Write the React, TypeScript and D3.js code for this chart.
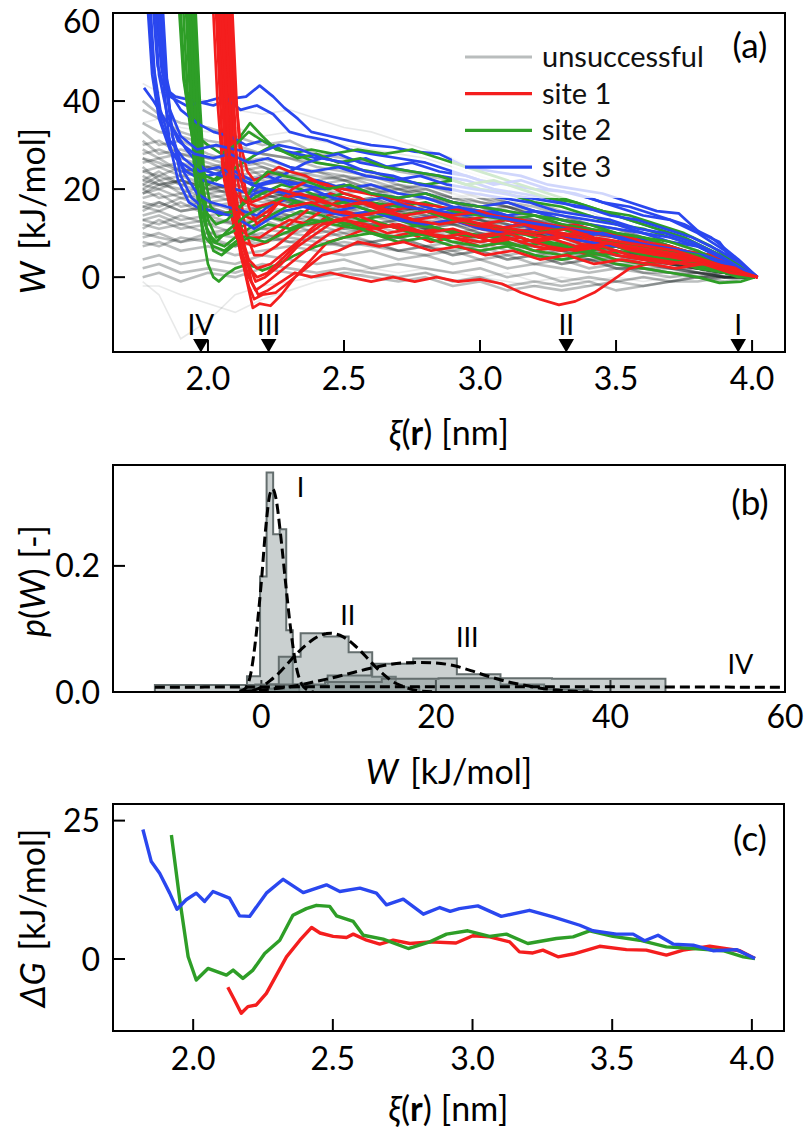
import React from "react";
import * as d3 from "d3";

type Pt = [number, number];

// ---------------- Panel (a): work profiles W(xi) ----------------
const XI_TICKS_A = [2.0, 2.5, 3.0, 3.5, 4.0];
const W_TICKS_A = [0, 20, 40, 60];

const GRAY_XI = [1.76, 1.82, 1.9, 2.0, 2.1, 2.2, 2.3, 2.4, 2.5, 2.6, 2.7, 2.8, 2.9, 3.0, 3.1, 3.2, 3.3, 3.4, 3.5, 3.6, 3.7, 3.8, 3.9, 4.0];
const GRAY_W: number[][] = [
  [38, 36, 33, 31, 30, 28, 27, 26, 25, 24, 22, 21, 20, 18, 16, 15, 13, 11, 9, 7, 6, 4, 2, 0],
  [30, 31, 28, 27, 25, 26, 24, 23, 22, 20, 21, 19, 17, 16, 15, 13, 12, 10, 9, 7, 5, 4, 2, 0],
  [27, 25, 26, 24, 22, 23, 21, 20, 21, 19, 17, 18, 16, 15, 13, 12, 11, 9, 8, 6, 5, 3, 1, 0],
  [25, 22, 23, 21, 20, 18, 19, 17, 16, 17, 15, 14, 15, 13, 12, 10, 9, 8, 6, 5, 4, 2, 1, 0],
  [22, 24, 21, 22, 19, 20, 18, 19, 17, 16, 17, 15, 13, 14, 12, 11, 9, 8, 7, 5, 4, 3, 1, 0],
  [20, 18, 19, 17, 18, 16, 17, 15, 16, 14, 13, 14, 12, 11, 10, 11, 9, 7, 6, 5, 3, 2, 1, 0],
  [18, 19, 16, 17, 15, 16, 14, 15, 13, 14, 12, 11, 12, 10, 9, 8, 9, 7, 5, 4, 3, 2, 1, 0],
  [16, 15, 17, 14, 15, 13, 14, 12, 13, 11, 12, 10, 9, 10, 8, 7, 6, 7, 5, 4, 2, 2, 0, 0],
  [14, 15, 13, 14, 12, 13, 11, 12, 10, 11, 9, 10, 8, 9, 7, 8, 6, 5, 4, 4, 3, 1, 1, 0],
  [12, 11, 12, 10, 11, 9, 10, 11, 9, 8, 9, 7, 8, 6, 7, 5, 6, 4, 3, 3, 2, 1, 0, 0],
  [10, 9, 8, 9, 7, 8, 9, 8, 7, 8, 6, 7, 5, 6, 4, 5, 3, 4, 2, 2, 1, 0, 0, 0],
  [7, 8, 6, 7, 5, 6, 7, 6, 5, 6, 4, 5, 3, 4, 2, 3, 2, 1, 2, 1, 0, 1, 0, 0],
  [4, 5, 3, 4, 3, 5, 4, 3, 4, 2, 3, 2, 1, 2, 0, 1, -1, 0, -1, 0, -1, 0, 0, 0],
  [0, 1, -1, 1, 0, 2, 1, 0, 1, 0, -1, 0, -2, -1, -3, -2, -3, -2, -1, -2, -1, 0, -1, 0],
  [33, 30, 31, 28, 26, 27, 25, 24, 23, 22, 20, 21, 19, 17, 16, 14, 13, 12, 10, 8, 6, 5, 3, 0],
  [28, 29, 27, 25, 26, 23, 24, 22, 20, 21, 19, 18, 17, 15, 16, 14, 12, 11, 9, 8, 6, 4, 2, 0],
  [24, 25, 23, 24, 22, 21, 22, 20, 19, 20, 18, 16, 17, 15, 14, 13, 11, 10, 8, 7, 5, 4, 2, 0],
  [21, 20, 22, 20, 21, 19, 20, 18, 17, 18, 16, 15, 16, 14, 13, 12, 11, 9, 8, 6, 5, 3, 2, 0],
  [19, 21, 20, 18, 19, 17, 18, 16, 15, 16, 14, 15, 13, 12, 13, 11, 10, 8, 7, 6, 4, 3, 1, 0],
  [17, 16, 18, 16, 17, 15, 14, 15, 13, 12, 13, 11, 10, 11, 9, 10, 8, 7, 6, 5, 3, 2, 1, 0],
  [15, 17, 15, 16, 14, 15, 13, 14, 12, 13, 11, 12, 10, 8, 9, 7, 8, 6, 5, 4, 3, 2, 1, 0],
  [13, 12, 14, 12, 13, 11, 12, 10, 11, 10, 8, 9, 7, 8, 6, 7, 5, 4, 4, 3, 2, 1, 0, 0],
  [11, 13, 11, 12, 10, 11, 10, 9, 10, 8, 9, 7, 6, 7, 5, 6, 4, 5, 3, 2, 2, 1, 0, 0],
  [9, 10, 8, 10, 9, 10, 8, 9, 7, 8, 6, 5, 6, 4, 5, 3, 4, 2, 3, 1, 1, 0, 1, 0],
  [26, 27, 24, 25, 23, 24, 22, 21, 22, 20, 19, 20, 18, 16, 17, 15, 13, 12, 11, 9, 7, 5, 3, 0],
  [23, 21, 22, 20, 21, 19, 17, 18, 16, 17, 15, 16, 14, 13, 11, 12, 10, 9, 7, 6, 4, 3, 1, 0],
  [20, 22, 19, 21, 18, 19, 17, 16, 17, 15, 16, 14, 13, 12, 11, 10, 9, 8, 6, 5, 4, 2, 1, 0],
  [31, 28, 29, 27, 28, 25, 23, 24, 22, 23, 21, 20, 18, 19, 17, 15, 14, 12, 11, 9, 7, 5, 3, 0],
  [40, 37, 35, 34, 32, 30, 31, 28, 27, 26, 24, 23, 22, 20, 19, 17, 15, 14, 12, 10, 8, 6, 3, 0],
  [2, 3, 1, 2, 1, 3, 2, 1, 2, 1, 0, 1, -1, 0, -2, -1, -2, -1, -3, -2, -1, -1, 0, 0],
  [24, 23, 25, 22, 23, 21, 22, 20, 21, 19, 18, 19, 17, 16, 15, 14, 12, 11, 9, 8, 6, 4, 2, 0],
  [22, 21, 22, 20, 19, 20, 18, 19, 17, 18, 16, 15, 14, 15, 13, 12, 10, 9, 8, 6, 5, 3, 1, 0],
  [19, 20, 18, 19, 17, 18, 16, 17, 15, 14, 15, 13, 12, 13, 11, 10, 9, 8, 7, 5, 4, 3, 1, 0],
  [27, 26, 24, 25, 23, 22, 21, 22, 20, 19, 20, 18, 17, 16, 14, 13, 12, 10, 9, 7, 6, 4, 2, 0],
  [16, 17, 15, 16, 14, 16, 15, 13, 14, 12, 13, 11, 12, 10, 9, 10, 8, 6, 6, 4, 3, 2, 1, 0],
  [29, 27, 28, 26, 24, 25, 23, 22, 23, 21, 20, 19, 18, 17, 16, 14, 13, 11, 10, 8, 6, 4, 2, 0],
  [13, 14, 12, 13, 12, 14, 12, 13, 11, 12, 10, 11, 9, 8, 9, 7, 6, 5, 5, 3, 3, 2, 1, 0],
  [21, 23, 21, 19, 20, 18, 19, 17, 18, 16, 15, 16, 14, 13, 12, 11, 10, 9, 7, 6, 5, 3, 2, 0],
  [8, 7, 9, 8, 7, 9, 8, 7, 8, 7, 6, 7, 5, 6, 4, 5, 3, 4, 2, 2, 1, 1, 0, 0],
  [35, 33, 32, 30, 29, 28, 27, 25, 24, 23, 22, 21, 20, 18, 17, 16, 14, 12, 10, 9, 7, 5, 2, 0],
];
const GRAY_FAINT_W: number[][] = [
  [44, 42, 41, 40, 38, 37, 38, 36, 34, 33, 31, 29, 27, 24, 22, 20, 17, 15, 12, 10, 8, 5, 3, 0],
  [-1, -4, -14, -10, -4, -2, -1, 0, 1, 2, 1, 2, 1, 0, 1, -1, 0, -1, 0, -1, 0, 0, 0, 0],
  [-2, -2, -4, -6, -8, -5, -3, -1, 0, 1, 0, 1, -1, 0, -1, -2, -1, -2, -1, 0, -1, 0, 0, 0],
  [35, 36, 34, 33, 34, 32, 33, 31, 30, 29, 28, 27, 25, 23, 21, 19, 16, 14, 12, 9, 7, 5, 2, 0],
];

const SITE1: Pt[][] = [
  [[2.055, 75], [2.06, 60], [2.075, 40], [2.09, 22], [2.11, 10], [2.14, 0], [2.165, -7], [2.19, -6], [2.23, -6.5], [2.27, -4], [2.32, 0], [2.38, 4], [2.44, 8], [2.5, 9], [2.58, 11], [2.66, 9], [2.74, 10], [2.82, 8], [2.9, 9], [3.0, 7], [3.1, 8], [3.2, 6], [3.3, 7], [3.4, 5], [3.5, 6], [3.6, 4], [3.7, 5], [3.8, 3], [3.9, 2], [3.97, 1], [4.02, 0]],
  [[2.065, 75], [2.07, 60], [2.085, 40], [2.1, 20], [2.13, 8], [2.16, -1], [2.185, -4], [2.22, -3], [2.27, -1], [2.32, 1], [2.38, 0], [2.45, 1], [2.52, 0], [2.6, -1], [2.68, 0], [2.76, -1], [2.84, 0], [2.92, -1], [3.0, -0.5], [3.08, -1.5], [3.15, -3.5], [3.22, -5], [3.29, -6.3], [3.35, -5.5], [3.42, -3.5], [3.48, -1], [3.55, 2], [3.62, 3], [3.7, 4], [3.8, 3], [3.9, 2], [4.02, 0]],
  [[2.045, 75], [2.05, 60], [2.065, 40], [2.08, 20], [2.11, 8], [2.15, 0], [2.175, -3], [2.21, -1.5], [2.26, 1], [2.32, 4], [2.38, 7], [2.45, 10], [2.52, 12], [2.6, 11], [2.68, 12], [2.76, 10], [2.85, 11], [2.95, 9], [3.05, 10], [3.15, 8], [3.25, 9], [3.35, 7], [3.45, 8], [3.55, 6], [3.65, 5], [3.75, 4], [3.85, 3], [3.95, 1], [4.02, 0]],
  [[2.035, 75], [2.04, 60], [2.055, 40], [2.07, 20], [2.1, 10], [2.14, 3], [2.18, 0], [2.22, 1], [2.27, 4], [2.32, 7], [2.38, 11], [2.44, 14], [2.5, 15], [2.57, 14], [2.64, 15], [2.72, 13], [2.8, 12], [2.9, 13], [3.0, 11], [3.1, 10], [3.2, 11], [3.3, 9], [3.4, 8], [3.5, 7], [3.6, 6], [3.7, 5], [3.8, 4], [3.9, 2], [4.02, 0]],
  [[2.075, 75], [2.08, 60], [2.095, 40], [2.11, 22], [2.14, 10], [2.17, 5], [2.2, 5], [2.25, 7], [2.31, 10], [2.37, 13], [2.44, 16], [2.5, 18], [2.56, 17], [2.63, 16], [2.7, 14], [2.8, 15], [2.9, 13], [3.0, 12], [3.1, 13], [3.2, 11], [3.3, 10], [3.4, 9], [3.5, 8], [3.6, 7], [3.7, 6], [3.8, 4], [3.9, 3], [4.02, 0]],
  [[2.025, 75], [2.03, 60], [2.045, 40], [2.06, 22], [2.09, 13], [2.13, 8], [2.17, 7], [2.22, 8], [2.28, 11], [2.34, 14], [2.4, 17], [2.45, 19], [2.5, 18], [2.58, 17], [2.66, 15], [2.75, 16], [2.85, 14], [2.95, 13], [3.05, 14], [3.15, 12], [3.25, 11], [3.35, 12], [3.45, 10], [3.55, 9], [3.65, 7], [3.75, 6], [3.85, 5], [3.95, 2], [4.02, 0]],
  [[2.085, 75], [2.09, 60], [2.105, 40], [2.12, 26], [2.15, 16], [2.18, 12], [2.22, 14], [2.26, 17], [2.31, 20], [2.37, 22], [2.44, 21], [2.5, 19], [2.56, 18], [2.63, 16], [2.7, 17], [2.8, 15], [2.9, 14], [3.0, 15], [3.1, 13], [3.2, 12], [3.3, 11], [3.4, 10], [3.5, 9], [3.6, 8], [3.7, 7], [3.8, 5], [3.9, 3], [4.02, 0]],
  [[2.08, 75], [2.085, 60], [2.1, 42], [2.12, 30], [2.145, 24], [2.17, 22], [2.21, 23], [2.26, 25], [2.3, 24], [2.36, 23], [2.42, 21], [2.5, 20], [2.58, 19], [2.66, 18], [2.75, 17], [2.85, 16], [2.95, 15], [3.05, 14], [3.15, 13], [3.25, 12], [3.35, 11], [3.45, 10], [3.55, 9], [3.65, 7], [3.75, 6], [3.85, 4], [3.95, 2], [4.02, 0]],
  [[2.04, 75], [2.045, 60], [2.06, 40], [2.075, 20], [2.11, 12], [2.15, 9], [2.19, 9], [2.24, 11], [2.3, 13], [2.37, 12], [2.45, 13], [2.53, 12], [2.62, 11], [2.7, 12], [2.8, 10], [2.9, 11], [3.0, 9], [3.1, 10], [3.2, 8], [3.3, 9], [3.4, 7], [3.5, 8], [3.6, 6], [3.7, 5], [3.8, 4], [3.9, 2], [4.02, 0]],
  [[2.06, 75], [2.065, 60], [2.08, 40], [2.095, 20], [2.12, 10], [2.15, 4], [2.18, 2], [2.23, 3], [2.29, 6], [2.35, 9], [2.42, 12], [2.5, 13], [2.58, 12], [2.66, 10], [2.75, 11], [2.85, 9], [2.95, 10], [3.05, 8], [3.15, 9], [3.25, 7], [3.35, 6], [3.45, 7], [3.55, 5], [3.65, 4], [3.75, 3], [3.85, 3], [3.95, 1], [4.02, 0]],
  [[2.015, 75], [2.02, 60], [2.035, 40], [2.055, 24], [2.09, 17], [2.13, 14], [2.17, 13], [2.22, 15], [2.28, 18], [2.34, 19], [2.42, 17], [2.5, 16], [2.58, 17], [2.67, 15], [2.76, 13], [2.86, 14], [2.96, 12], [3.06, 11], [3.16, 12], [3.26, 10], [3.36, 9], [3.46, 8], [3.56, 6], [3.66, 5], [3.76, 4], [3.86, 3], [3.96, 1], [4.02, 0]],
  [[2.03, 75], [2.035, 60], [2.05, 42], [2.068, 26], [2.1, 19], [2.14, 17], [2.18, 16], [2.24, 17], [2.3, 16], [2.38, 17], [2.46, 15], [2.55, 14], [2.65, 15], [2.75, 13], [2.85, 12], [2.95, 13], [3.05, 11], [3.15, 10], [3.25, 9], [3.35, 10], [3.45, 8], [3.55, 7], [3.65, 6], [3.75, 5], [3.85, 3], [3.95, 2], [4.02, 0]],
  [[2.05, 75], [2.055, 60], [2.07, 40], [2.085, 20], [2.115, 9], [2.15, 3], [2.175, -1], [2.21, 0], [2.27, 3], [2.33, 7], [2.4, 10], [2.47, 13], [2.55, 14], [2.63, 12], [2.71, 11], [2.8, 10], [2.9, 9], [3.0, 8], [3.1, 9], [3.2, 7], [3.3, 6], [3.4, 7], [3.5, 5], [3.6, 4], [3.7, 3], [3.8, 4], [3.9, 2], [4.02, 0]],
  [[2.07, 75], [2.075, 60], [2.09, 40], [2.105, 26], [2.13, 20], [2.16, 17], [2.2, 18], [2.26, 20], [2.32, 19], [2.4, 18], [2.48, 16], [2.56, 17], [2.64, 15], [2.72, 14], [2.82, 15], [2.92, 13], [3.02, 12], [3.12, 11], [3.22, 10], [3.32, 11], [3.42, 9], [3.52, 8], [3.62, 7], [3.72, 6], [3.82, 4], [3.92, 2], [4.02, 0]],
  [[2.048, 75], [2.052, 60], [2.068, 40], [2.082, 20], [2.12, 5], [2.15, -2], [2.17, -5], [2.2, -4], [2.25, -3.5], [2.3, -1], [2.36, 2], [2.42, 5], [2.48, 6], [2.55, 8], [2.63, 7], [2.72, 8], [2.82, 6], [2.92, 7], [3.02, 5], [3.12, 6], [3.22, 4], [3.32, 5], [3.42, 3], [3.52, 4], [3.62, 3], [3.72, 2], [3.82, 3], [3.92, 1], [4.02, 0]],
];

const SITE2: Pt[][] = [
  [[1.927, 75], [1.93, 60], [1.945, 40], [1.96, 22], [1.98, 10], [2.0, 3], [2.02, 0], [2.04, -1], [2.065, 0.5], [2.1, 2], [2.15, 3], [2.2, 1.5], [2.26, 3], [2.32, 5], [2.4, 7], [2.5, 9], [2.6, 10], [2.7, 8], [2.8, 9], [2.9, 7], [3.0, 6], [3.1, 7], [3.2, 5], [3.3, 4], [3.4, 5], [3.5, 3], [3.6, 2], [3.7, 1], [3.8, 0], [3.88, -1.3], [3.96, -1], [4.01, 0]],
  [[1.937, 75], [1.94, 60], [1.955, 40], [1.97, 22], [1.99, 12], [2.02, 8], [2.06, 7], [2.1, 9], [2.15, 11], [2.2, 13], [2.26, 15], [2.32, 17], [2.4, 16], [2.48, 15], [2.56, 13], [2.65, 14], [2.75, 12], [2.85, 11], [2.95, 10], [3.05, 9], [3.15, 10], [3.25, 8], [3.35, 7], [3.45, 8], [3.55, 6], [3.65, 5], [3.75, 4], [3.85, 3], [3.95, 1], [4.01, 0]],
  [[1.907, 75], [1.91, 60], [1.925, 42], [1.945, 30], [1.97, 24], [2.0, 21], [2.04, 23], [2.08, 28], [2.12, 32], [2.155, 35], [2.2, 32], [2.25, 29], [2.32, 28], [2.4, 26], [2.5, 25], [2.6, 24], [2.7, 22], [2.8, 21], [2.9, 22], [3.0, 20], [3.1, 19], [3.2, 17], [3.3, 16], [3.4, 14], [3.5, 12], [3.6, 11], [3.7, 9], [3.8, 7], [3.9, 4], [4.01, 0]],
  [[1.947, 75], [1.95, 60], [1.965, 40], [1.98, 22], [2.0, 13], [2.03, 9], [2.08, 10], [2.14, 12], [2.2, 14], [2.27, 13], [2.34, 15], [2.42, 14], [2.5, 12], [2.6, 13], [2.7, 11], [2.8, 12], [2.9, 10], [3.0, 9], [3.1, 10], [3.2, 8], [3.3, 7], [3.4, 6], [3.5, 7], [3.6, 5], [3.7, 4], [3.8, 3], [3.9, 1], [4.01, 0]],
  [[1.897, 75], [1.9, 60], [1.915, 44], [1.935, 34], [1.96, 27], [1.99, 23], [2.03, 22], [2.08, 24], [2.13, 26], [2.18, 28], [2.24, 30], [2.3, 28], [2.38, 29], [2.46, 28], [2.55, 29], [2.65, 28], [2.75, 29], [2.85, 27], [2.95, 25], [3.05, 23], [3.15, 21], [3.25, 19], [3.35, 17], [3.45, 15], [3.55, 13], [3.65, 11], [3.75, 9], [3.85, 6], [3.95, 3], [4.01, 0]],
  [[1.952, 75], [1.955, 60], [1.97, 40], [1.985, 24], [2.01, 16], [2.04, 14], [2.09, 15], [2.14, 17], [2.2, 19], [2.27, 21], [2.34, 20], [2.42, 18], [2.5, 19], [2.6, 17], [2.7, 16], [2.8, 17], [2.9, 15], [3.0, 14], [3.1, 13], [3.2, 14], [3.3, 12], [3.4, 11], [3.5, 10], [3.6, 9], [3.7, 7], [3.8, 5], [3.9, 3], [4.01, 0]],
  [[1.917, 75], [1.92, 60], [1.935, 40], [1.95, 24], [1.97, 14], [1.99, 9], [2.02, 7], [2.06, 6], [2.1, 8], [2.16, 10], [2.22, 12], [2.3, 11], [2.38, 13], [2.46, 12], [2.55, 11], [2.65, 12], [2.75, 10], [2.85, 9], [2.95, 10], [3.05, 8], [3.15, 7], [3.25, 8], [3.35, 6], [3.45, 5], [3.55, 6], [3.65, 4], [3.75, 3], [3.85, 2], [3.95, 0], [4.01, 0]],
  [[1.932, 75], [1.935, 60], [1.95, 40], [1.965, 24], [1.99, 15], [2.03, 12], [2.07, 13], [2.12, 16], [2.17, 21], [2.22, 24], [2.28, 23], [2.35, 22], [2.44, 20], [2.52, 21], [2.6, 19], [2.7, 18], [2.8, 19], [2.9, 17], [3.0, 16], [3.1, 15], [3.2, 14], [3.3, 13], [3.4, 12], [3.5, 10], [3.6, 9], [3.7, 8], [3.8, 6], [3.9, 3], [4.01, 0]],
  [[1.942, 75], [1.945, 60], [1.96, 40], [1.975, 22], [1.995, 11], [2.02, 6], [2.05, 5], [2.09, 7], [2.15, 9], [2.21, 8], [2.28, 10], [2.36, 12], [2.44, 13], [2.52, 12], [2.6, 10], [2.7, 9], [2.8, 10], [2.9, 8], [3.0, 7], [3.1, 8], [3.2, 6], [3.3, 5], [3.4, 6], [3.5, 4], [3.6, 3], [3.7, 4], [3.8, 2], [3.9, 1], [4.01, 0]],
  [[1.892, 75], [1.895, 60], [1.91, 45], [1.93, 37], [1.96, 32], [2.0, 30], [2.05, 28], [2.1, 30], [2.15, 33], [2.2, 31], [2.26, 29], [2.33, 27], [2.4, 28], [2.48, 26], [2.56, 27], [2.65, 25], [2.75, 24], [2.85, 23], [2.95, 21], [3.05, 22], [3.15, 20], [3.25, 18], [3.35, 17], [3.45, 15], [3.55, 14], [3.65, 12], [3.75, 10], [3.85, 7], [3.95, 3], [4.01, 0]],
  [[1.922, 75], [1.925, 60], [1.94, 40], [1.955, 24], [1.975, 15], [2.0, 10], [2.03, 8], [2.08, 11], [2.14, 14], [2.2, 16], [2.27, 18], [2.34, 17], [2.42, 16], [2.5, 17], [2.6, 15], [2.7, 14], [2.8, 15], [2.9, 13], [3.0, 12], [3.1, 11], [3.2, 10], [3.3, 11], [3.4, 9], [3.5, 8], [3.6, 7], [3.7, 6], [3.8, 5], [3.9, 2], [4.01, 0]],
];

const SITE3: Pt[][] = [
  [[1.795, 75], [1.8, 60], [1.815, 48], [1.84, 43], [1.88, 41], [1.95, 40], [2.02, 39], [2.08, 40.5], [2.14, 41], [2.19, 43.5], [2.24, 41], [2.28, 38.5], [2.33, 36], [2.38, 33], [2.45, 32], [2.52, 31], [2.6, 30], [2.68, 29.5], [2.76, 28.5], [2.85, 28], [2.95, 25], [3.05, 24], [3.15, 23], [3.25, 21], [3.35, 20], [3.45, 19], [3.55, 17], [3.65, 15], [3.73, 14.5], [3.81, 10], [3.88, 8], [3.94, 3], [4.02, 0]],
  [[1.805, 75], [1.81, 60], [1.83, 47], [1.86, 41], [1.92, 39], [2.0, 40], [2.06, 41], [2.12, 38], [2.18, 39], [2.24, 37], [2.3, 33], [2.36, 32], [2.44, 31], [2.52, 29], [2.6, 28], [2.7, 27], [2.8, 26], [2.9, 24], [3.0, 22], [3.1, 21], [3.2, 20], [3.3, 19.5], [3.4, 18], [3.5, 16], [3.6, 14], [3.7, 13], [3.8, 10], [3.9, 6], [4.02, 0]],
  [[1.775, 75], [1.78, 60], [1.795, 46], [1.82, 36], [1.86, 29], [1.9, 26], [1.95, 24], [2.0, 23], [2.06, 24], [2.12, 22], [2.18, 21], [2.24, 22], [2.3, 24], [2.36, 26], [2.42, 27], [2.5, 26], [2.58, 27], [2.66, 25], [2.75, 24], [2.85, 23], [2.95, 22], [3.05, 20], [3.15, 19], [3.25, 18], [3.35, 16], [3.45, 15], [3.55, 13], [3.65, 11], [3.75, 9], [3.85, 6], [3.95, 3], [4.02, 0]],
  [[1.82, 75], [1.825, 60], [1.84, 42], [1.86, 30], [1.89, 22], [1.93, 17], [1.97, 15.5], [2.03, 15], [2.08, 14], [2.12, 16], [2.17, 19], [2.22, 20], [2.28, 19], [2.35, 18], [2.45, 19], [2.55, 17], [2.65, 16], [2.75, 17], [2.85, 15], [2.95, 14], [3.05, 15], [3.15, 13], [3.25, 12], [3.35, 11], [3.45, 10], [3.55, 9], [3.65, 8], [3.75, 6], [3.85, 5], [3.95, 2], [4.02, 0]],
  [[1.785, 75], [1.79, 60], [1.805, 45], [1.83, 35], [1.87, 28], [1.92, 24], [1.98, 22], [2.04, 21], [2.1, 20], [2.15, 19], [2.2, 21], [2.27, 22], [2.35, 21], [2.43, 20], [2.5, 21], [2.6, 19], [2.7, 18], [2.8, 19], [2.9, 17], [3.0, 16], [3.1, 17], [3.2, 15], [3.3, 14], [3.4, 13], [3.5, 12], [3.6, 10], [3.7, 9], [3.8, 7], [3.9, 4], [4.02, 0]],
  [[1.765, 43], [1.8, 40], [1.84, 36], [1.88, 33], [1.92, 29], [1.96, 26], [2.0, 24], [2.05, 23], [2.1, 24], [2.16, 22], [2.22, 23], [2.3, 21], [2.4, 22], [2.5, 20], [2.6, 21], [2.7, 19], [2.8, 18], [2.9, 16], [3.0, 15], [3.1, 14], [3.2, 15], [3.3, 13], [3.4, 12], [3.5, 11], [3.6, 10], [3.7, 8], [3.8, 7], [3.9, 4], [4.02, 0]],
  [[1.83, 75], [1.835, 60], [1.85, 44], [1.87, 32], [1.9, 23], [1.94, 18], [1.99, 15.5], [2.04, 14.5], [2.09, 14], [2.13, 12.5], [2.17, 11], [2.22, 13], [2.28, 15], [2.35, 16], [2.42, 15], [2.5, 14], [2.6, 15], [2.7, 13], [2.8, 12], [2.9, 13], [3.0, 11], [3.1, 10], [3.2, 11], [3.3, 9], [3.4, 8], [3.5, 7], [3.6, 8], [3.7, 6], [3.8, 5], [3.9, 3], [4.02, 0]],
  [[1.81, 75], [1.815, 60], [1.83, 50], [1.86, 42], [1.9, 38], [1.96, 35], [2.02, 33], [2.08, 32], [2.14, 30], [2.2, 31], [2.26, 29], [2.33, 28], [2.4, 27], [2.48, 28], [2.56, 26], [2.65, 25], [2.75, 26], [2.85, 24], [2.95, 23], [3.05, 21], [3.15, 22], [3.25, 20], [3.35, 19], [3.45, 17], [3.55, 16], [3.65, 14], [3.75, 12], [3.85, 9], [3.95, 4], [4.02, 0]],
  [[1.78, 75], [1.785, 60], [1.8, 48], [1.825, 38], [1.86, 31], [1.91, 27], [1.97, 24], [2.04, 25], [2.1, 23], [2.16, 21], [2.22, 20], [2.3, 19], [2.38, 20], [2.46, 18], [2.55, 17], [2.64, 18], [2.73, 16], [2.82, 15], [2.92, 16], [3.02, 14], [3.12, 13], [3.22, 12], [3.32, 11], [3.42, 10], [3.52, 9], [3.62, 7], [3.72, 6], [3.82, 5], [3.92, 3], [4.02, 0]],
  [[1.825, 75], [1.83, 60], [1.845, 44], [1.87, 32], [1.91, 24], [1.96, 19], [2.01, 17], [2.07, 16], [2.13, 15], [2.18, 14], [2.22, 16], [2.3, 18], [2.38, 16], [2.46, 15], [2.55, 16], [2.65, 14], [2.75, 13], [2.85, 14], [2.95, 12], [3.05, 11], [3.15, 12], [3.25, 10], [3.35, 9], [3.45, 10], [3.55, 8], [3.65, 7], [3.75, 6], [3.85, 4], [3.95, 2], [4.02, 0]],
  [[1.8, 75], [1.805, 60], [1.82, 46], [1.85, 37], [1.89, 31], [1.95, 28], [2.02, 27], [2.08, 28], [2.15, 26], [2.22, 27], [2.3, 25], [2.38, 24], [2.48, 25], [2.58, 23], [2.68, 22], [2.78, 23], [2.88, 21], [2.98, 20], [3.08, 19], [3.18, 18], [3.28, 17], [3.38, 16], [3.48, 14], [3.58, 13], [3.68, 11], [3.78, 9], [3.88, 6], [3.96, 3], [4.02, 0]],
  [[1.815, 75], [1.82, 60], [1.835, 47], [1.86, 38], [1.9, 32], [1.96, 29], [2.03, 30], [2.1, 29], [2.18, 28], [2.26, 30], [2.34, 29], [2.42, 27], [2.5, 26], [2.58, 24], [2.68, 23], [2.78, 21], [2.88, 20], [2.98, 19], [3.08, 18], [3.18, 17], [3.28, 15], [3.38, 14], [3.48, 13], [3.58, 11], [3.68, 10], [3.78, 8], [3.88, 5], [3.96, 2], [4.02, 0]],
];

const MARKER_XI = [1.974, 2.223, 3.317, 3.949];
const MARKER_LABELS = ["IV", "III", "II", "I"];
const LEGEND_LABELS = ["unsuccessful", "site 1", "site 2", "site 3"];

// ---------------- Panel (b): work distributions ----------------
const W_TICKS_B = [0, 20, 40, 60];
const P_TICKS_B = [0.0, 0.2];
const HIST_I_EDGES = [-1.65, -0.9, -0.15, 0.6, 1.35, 2.1, 2.85, 3.6, 4.35];
const HIST_I_P = [0.025, 0.025, 0.183, 0.348, 0.25, 0.258, 0.098, 0.012];
const HIST_II_EDGES = [-0.7, 2.0, 4.5, 7.2, 10.0, 12.7, 15.4, 18.1];
const HIST_II_P = [0.012, 0.056, 0.093, 0.088, 0.063, 0.024, 0.008];
const HIST_III_EDGES = [-2.4, 2.6, 7.6, 12.6, 17.4, 22.4, 27.4, 32.4, 37.4];
const HIST_III_P = [0.005, 0.011, 0.026, 0.045, 0.053, 0.028, 0.012, 0.004];
const HIST_IV_EDGES = [-12.2, -5.7, 0.8, 7.3, 13.8, 20.3, 26.8, 33.3, 39.8, 46.3];
const HIST_IV_P = [0.011, 0.011, 0.012, 0.016, 0.021, 0.022, 0.022, 0.021, 0.021];

const FIT_I: Pt[] = [[-2.5, 0.001], [-1.8, 0.006], [-1.2, 0.03], [-0.6, 0.09], [0, 0.175], [0.5, 0.26], [1.0, 0.315], [1.3, 0.322], [1.7, 0.305], [2.2, 0.25], [2.8, 0.17], [3.4, 0.095], [4.0, 0.04], [4.6, 0.013], [5.3, 0.003], [6, 0]];
const FIT_II: Pt[] = [[-1, 0.002], [0, 0.008], [1, 0.018], [2, 0.03], [3, 0.045], [4, 0.06], [5, 0.073], [6, 0.084], [7, 0.091], [8, 0.093], [9, 0.09], [10, 0.082], [11, 0.07], [12, 0.056], [13, 0.041], [14, 0.028], [15, 0.017], [16, 0.01], [17, 0.005], [18, 0.002], [20, 0]];
const FIT_III: Pt[] = [[-2, 0.001], [0, 0.003], [2, 0.006], [4, 0.01], [6, 0.016], [8, 0.022], [10, 0.029], [12, 0.036], [14, 0.042], [16, 0.046], [18, 0.047], [20, 0.046], [22, 0.042], [24, 0.034], [26, 0.025], [28, 0.017], [30, 0.011], [32, 0.006], [34, 0.003], [36, 0.001], [38, 0]];
const FIT_IV: Pt[] = [[-12.2, 0.0075], [0, 0.008], [20, 0.0085], [40, 0.0082], [59.5, 0.0075]];

const PEAK_LABELS = ["I", "II", "III", "IV"];
const PEAK_LABEL_W = [4.5, 9.9, 23.6, 54.9];
const PEAK_LABEL_P = [0.325, 0.121, 0.086, 0.044];

// ---------------- Panel (c): free energy profiles ----------------
const XI_TICKS_C = [2.0, 2.5, 3.0, 3.5, 4.0];
const DG_TICKS_C = [0, 25];
const DG_SITE1: Pt[] = [[2.124, -5.1], [2.148, -7.4], [2.172, -9.8], [2.196, -8.6], [2.226, -8.3], [2.262, -6.2], [2.298, -2.9], [2.334, 0.4], [2.382, 3.4], [2.424, 5.7], [2.454, 4.7], [2.501, 4.1], [2.549, 3.9], [2.573, 4.5], [2.621, 3.4], [2.668, 2.7], [2.716, 3.4], [2.776, 2.8], [2.847, 3.1], [2.941, 2.9], [3.001, 4.2], [3.061, 4.0], [3.133, 3.1], [3.168, 1.3], [3.216, 1.1], [3.252, 1.6], [3.306, 0.4], [3.36, 0.9], [3.455, 2.3], [3.551, 1.7], [3.622, 1.6], [3.694, 0.7], [3.754, 1.6], [3.849, 2.3], [3.957, 1.5], [4.011, 0.1]];
const DG_SITE2: Pt[] = [[1.922, 22.4], [1.952, 10.7], [1.982, 0.4], [2.011, -3.8], [2.053, -1.7], [2.119, -2.9], [2.143, -2.0], [2.178, -3.5], [2.214, -2.0], [2.256, 1.0], [2.31, 3.4], [2.357, 7.9], [2.405, 9.1], [2.441, 9.7], [2.489, 9.5], [2.513, 7.8], [2.573, 6.8], [2.609, 4.3], [2.68, 3.6], [2.77, 1.9], [2.847, 3.1], [2.907, 4.5], [2.983, 5.1], [3.061, 4.1], [3.121, 4.5], [3.198, 2.8], [3.3, 3.7], [3.36, 4.0], [3.419, 5.1], [3.503, 4.1], [3.598, 3.4], [3.694, 2.2], [3.79, 1.9], [3.897, 1.5], [3.969, 0.4], [4.011, 0.1]];
const DG_SITE3: Pt[] = [[1.82, 23.4], [1.85, 17.6], [1.88, 15.5], [1.916, 11.9], [1.942, 9.0], [1.975, 10.7], [2.011, 11.9], [2.041, 10.4], [2.071, 12.2], [2.13, 11.0], [2.166, 7.8], [2.202, 7.7], [2.262, 11.9], [2.322, 14.4], [2.394, 12.0], [2.477, 13.4], [2.525, 12.2], [2.597, 12.8], [2.656, 11.9], [2.692, 9.8], [2.752, 10.8], [2.824, 8.1], [2.883, 9.3], [2.92, 8.6], [2.953, 9.1], [3.019, 9.6], [3.103, 7.7], [3.204, 8.8], [3.288, 7.6], [3.384, 6.1], [3.431, 5.1], [3.515, 4.5], [3.575, 4.5], [3.616, 3.3], [3.664, 4.3], [3.718, 2.7], [3.79, 2.5], [3.861, 1.5], [3.945, 1.7], [4.011, 0.1]];

const C_RED = "#f41e1e";
const C_GREEN = "#2e9e27";
const C_BLUE = "#2a47ef";
const C_GRAY = "#1e2828";
const C_GRAY_LEG = "#b9bdbd";
const FONT = "Lato, 'DejaVu Sans', sans-serif";

function stepPoints(edges: number[], vals: number[]): Pt[] {
  const pts: Pt[] = [[edges[0], 0]];
  vals.forEach((v, i) => {
    pts.push([edges[i], v]);
    pts.push([edges[i + 1], v]);
  });
  pts.push([edges[edges.length - 1], 0]);
  return pts;
}

export default function App() {
  const A = { l: 113, r: 785, t: 13, b: 352 };
  const B = { l: 113, r: 785, t: 465, b: 692 };
  const C = { l: 113, r: 784, t: 804, b: 1031 };

  const xA = d3.scaleLinear().domain([1.651, 4.121]).range([A.l, A.r]);
  const yA = d3.scaleLinear().domain([-17, 60]).range([A.b, A.t]);
  const xB = d3.scaleLinear().domain([-17, 60]).range([B.l, B.r]);
  const yB = d3.scaleLinear().domain([0, 0.36]).range([B.b, B.t]);
  const xC = d3.scaleLinear().domain([1.713, 4.115]).range([C.l, C.r]);
  const yC = d3.scaleLinear().domain([-13, 28]).range([C.b, C.t]);

  const lineA = d3.line<Pt>().x((d) => xA(d[0])).y((d) => yA(d[1]));
  const lineB = d3.line<Pt>().x((d) => xB(d[0])).y((d) => yB(d[1]));
  const fitB = d3.line<Pt>().x((d) => xB(d[0])).y((d) => yB(d[1])).curve(d3.curveMonotoneX);
  const lineC = d3.line<Pt>().x((d) => xC(d[0])).y((d) => yC(d[1]));

  const grayPts = (vals: number[]): Pt[] =>
    GRAY_XI.map((x, i) => [x, vals[i]] as Pt).filter((d) => d[1] !== undefined);

  const sites = [SITE1, SITE2, SITE3];
  const siteColors = [C_RED, C_GREEN, C_BLUE];
  const maxLen = Math.max(...sites.map((s) => s.length));
  const colored: { pts: Pt[]; color: string }[] = [];
  for (let i = 0; i < maxLen; i++) {
    sites.forEach((s, k) => {
      if (s[i]) colored.push({ pts: s[i], color: siteColors[k] });
    });
  }

  const fmt1 = d3.format(".1f");
  const tickFont = 32;
  const tickLen = 12;

  const hists = [
    stepPoints(HIST_I_EDGES, HIST_I_P),
    stepPoints(HIST_II_EDGES, HIST_II_P),
    stepPoints(HIST_III_EDGES, HIST_III_P),
    stepPoints(HIST_IV_EDGES, HIST_IV_P),
  ];
  const fits = [FIT_I, FIT_II, FIT_III, FIT_IV];
  const tri = d3.symbol().type(d3.symbolTriangle).size(105)();

  const legendX = 465;
  const legendY0 = 57;
  const legendDy = 36.7;
  const legendColors = [C_GRAY_LEG, C_RED, C_GREEN, C_BLUE];

  return (
    <svg
      width={805}
      height={1130}
      style={{ position: "absolute", left: 0, top: 0, background: "#fff" }}
      fontFamily={FONT}
    >
      <defs>
        <clipPath id="clipA">
          <rect x={A.l} y={A.t} width={A.r - A.l} height={A.b - A.t} />
        </clipPath>
        <clipPath id="clipB">
          <rect x={B.l} y={B.t} width={B.r - B.l} height={B.b - B.t} />
        </clipPath>
        <clipPath id="clipC">
          <rect x={C.l} y={C.t} width={C.r - C.l} height={C.b - C.t} />
        </clipPath>
      </defs>

      {/* ================= Panel (a) ================= */}
      <g clipPath="url(#clipA)">
        {GRAY_FAINT_W.map((v, i) => (
          <path key={"gf" + i} d={lineA(grayPts(v)) || ""} fill="none" stroke={C_GRAY} strokeOpacity={0.1} strokeWidth={1.6} />
        ))}
        {GRAY_W.map((v, i) => (
          <path key={"g" + i} d={lineA(grayPts(v)) || ""} fill="none" stroke={C_GRAY} strokeOpacity={0.3} strokeWidth={2.6} strokeLinejoin="round" />
        ))}
        {colored.map((c, i) => (
          <path key={"c" + i} d={lineA(c.pts) || ""} fill="none" stroke={c.color} strokeWidth={2.7} strokeLinejoin="round" />
        ))}
      </g>
      {/* legend */}
      <rect x={452} y={36} width={262} height={162} fill="#fff" fillOpacity={0.78} />
      {LEGEND_LABELS.map((lab, i) => (
        <g key={"leg" + i}>
          <line x1={legendX} x2={legendX + 67} y1={legendY0 + i * legendDy} y2={legendY0 + i * legendDy} stroke={legendColors[i]} strokeWidth={3.2} />
          <text x={legendX + 77} y={legendY0 + i * legendDy + 10} fontSize={29} fill="#111">
            {lab}
          </text>
        </g>
      ))}
      {/* markers */}
      {MARKER_XI.map((m, i) => (
        <g key={"mk" + i}>
          <path d={tri || ""} transform={`translate(${xA(m)},${A.b - 8.5}) rotate(180)`} fill="#000" />
          <text x={xA(m)} y={A.b - 17} fontSize={28} textAnchor="middle" fill="#000">
            {MARKER_LABELS[i]}
          </text>
        </g>
      ))}
      {/* axes a */}
      <rect x={A.l} y={A.t} width={A.r - A.l} height={A.b - A.t} fill="none" stroke="#000" strokeWidth={2} />
      {W_TICKS_A.map((v) => (
        <g key={"wa" + v}>
          <line x1={A.l} x2={A.l + tickLen} y1={yA(v)} y2={yA(v)} stroke="#000" strokeWidth={2} />
          <text x={100} y={Math.max(yA(v), 21)} dy="0.36em" fontSize={tickFont} textAnchor="end">{v}</text>
        </g>
      ))}
      {XI_TICKS_A.map((v) => (
        <g key={"xa" + v}>
          <line x1={xA(v)} x2={xA(v)} y1={A.b} y2={A.b - tickLen} stroke="#000" strokeWidth={2} />
          <text x={xA(v)} y={A.b + 38} fontSize={tickFont} textAnchor="middle">{fmt1(v)}</text>
        </g>
      ))}
      <text x={750} y={46} dy="0.35em" fontSize={35} textAnchor="middle">(a)</text>
      <text x={(A.l + A.r) / 2} y={445} fontSize={34} textAnchor="middle">
        <tspan fontStyle="italic">ξ</tspan>(<tspan fontWeight="bold">r</tspan>)<tspan dx={9}>[nm]</tspan>
      </text>
      <text transform="translate(45,211) rotate(-90)" fontSize={34} textAnchor="middle">
        <tspan fontStyle="italic">W</tspan><tspan dx={12}>[kJ/mol]</tspan>
      </text>

      {/* ================= Panel (b) ================= */}
      {W_TICKS_B.map((v) => (
        <line key={"wbt" + v} x1={xB(v)} x2={xB(v)} y1={B.b} y2={B.b - tickLen} stroke="#000" strokeWidth={2} />
      ))}
      <g clipPath="url(#clipB)">
        {hists.map((h, i) => (
          <path key={"h" + i} d={lineB(h) || ""} fill="#7b8a8a" fillOpacity={0.4} stroke="#646e6e" strokeWidth={2} />
        ))}
        {fits.map((f, i) => (
          <path key={"f" + i} d={fitB(f) || ""} fill="none" stroke="#000" strokeWidth={3} strokeDasharray="10,5" />
        ))}
      </g>
      {PEAK_LABELS.map((lab, i) => (
        <text key={"pl" + i} x={xB(PEAK_LABEL_W[i])} y={yB(PEAK_LABEL_P[i])} dy="0.36em" fontSize={27} textAnchor="middle">
          {lab}
        </text>
      ))}
      <rect x={B.l} y={B.t} width={B.r - B.l} height={B.b - B.t} fill="none" stroke="#000" strokeWidth={2} />
      {P_TICKS_B.map((v) => (
        <g key={"pb" + v}>
          <line x1={B.l} x2={B.l + tickLen} y1={yB(v)} y2={yB(v)} stroke="#000" strokeWidth={2} />
          <text x={100} y={yB(v)} dy="0.36em" fontSize={tickFont} textAnchor="end">{fmt1(v)}</text>
        </g>
      ))}
      {W_TICKS_B.map((v) => (
        <text key={"wbl" + v} x={xB(v)} y={B.b + 36} fontSize={tickFont} textAnchor="middle">{v}</text>
      ))}
      <text x={750} y={503} dy="0.35em" fontSize={35} textAnchor="middle">(b)</text>
      <text x={(B.l + B.r) / 2} y={784} fontSize={34} textAnchor="middle">
        <tspan fontStyle="italic">W</tspan><tspan dx={12}>[kJ/mol]</tspan>
      </text>
      <text transform="translate(45,581) rotate(-90)" fontSize={34} textAnchor="middle">
        <tspan fontStyle="italic">p</tspan>(<tspan fontStyle="italic">W</tspan>)<tspan dx={10}>[-]</tspan>
      </text>

      {/* ================= Panel (c) ================= */}
      <g clipPath="url(#clipC)">
        <path d={lineC(DG_SITE1) || ""} fill="none" stroke={C_RED} strokeWidth={3.4} strokeLinejoin="round" />
        <path d={lineC(DG_SITE2) || ""} fill="none" stroke={C_GREEN} strokeWidth={3.4} strokeLinejoin="round" />
        <path d={lineC(DG_SITE3) || ""} fill="none" stroke={C_BLUE} strokeWidth={3.4} strokeLinejoin="round" />
      </g>
      <rect x={C.l} y={C.t} width={C.r - C.l} height={C.b - C.t} fill="none" stroke="#000" strokeWidth={2} />
      {DG_TICKS_C.map((v) => (
        <g key={"dg" + v}>
          <line x1={C.l} x2={C.l + tickLen} y1={yC(v)} y2={yC(v)} stroke="#000" strokeWidth={2} />
          <text x={100} y={yC(v)} dy="0.36em" fontSize={tickFont} textAnchor="end">{v}</text>
        </g>
      ))}
      {XI_TICKS_C.map((v) => (
        <g key={"xc" + v}>
          <line x1={xC(v)} x2={xC(v)} y1={C.b} y2={C.b - tickLen} stroke="#000" strokeWidth={2} />
          <text x={xC(v)} y={C.b + 39} fontSize={tickFont} textAnchor="middle">{fmt1(v)}</text>
        </g>
      ))}
      <text x={750} y={839} dy="0.35em" fontSize={35} textAnchor="middle">(c)</text>
      <text x={(C.l + C.r) / 2} y={1121} fontSize={34} textAnchor="middle">
        <tspan fontStyle="italic">ξ</tspan>(<tspan fontWeight="bold">r</tspan>)<tspan dx={9}>[nm]</tspan>
      </text>
      <text transform="translate(45,918) rotate(-90)" fontSize={34} textAnchor="middle">
        <tspan fontStyle="italic">ΔG</tspan><tspan dx={12}>[kJ/mol]</tspan>
      </text>
    </svg>
  );
}
